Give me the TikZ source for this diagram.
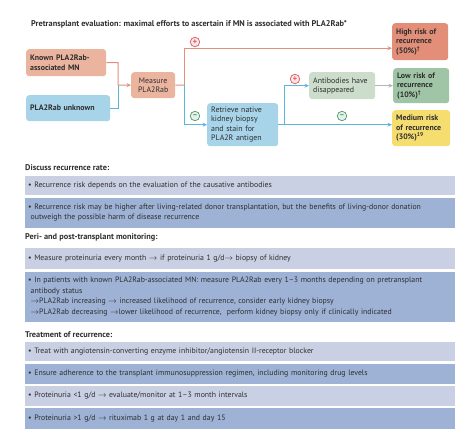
\documentclass[tikz,border=0pt]{standalone}
\usepackage{fontspec}
\setmainfont{PT Sans}
\usepackage{tikz}
\usetikzlibrary{arrows.meta,positioning,calc}

\definecolor{txt}{HTML}{2E2E2E}
\definecolor{salmonLt}{HTML}{EBB49F}
\definecolor{salmonDk}{HTML}{E38E78}
\definecolor{blueLt}{HTML}{A8D4EA}
\definecolor{greenLt}{HTML}{CCDDCC}
\definecolor{greenDk}{HTML}{A0C5A6}
\definecolor{yellowRisk}{HTML}{F6DD70}
\definecolor{bandLt}{HTML}{C9D0E3}
\definecolor{bandDk}{HTML}{9DB2D5}
\definecolor{lineSalmon}{HTML}{E0917B}
\definecolor{lineBlue}{HTML}{5BB6DC}
\definecolor{lineGray}{HTML}{B5B5B5}
\definecolor{plusRed}{HTML}{E0575C}
\definecolor{minusGreen}{HTML}{4E9A6C}

\begin{document}
\begin{tikzpicture}[x=1pt, y=-1pt,
  box/.style={rounded corners=3pt, fill=#1, anchor=north west, inner xsep=4pt,
              inner ysep=2pt, align=left, text=txt,
              font=\fontsize{7.9}{9.4}\selectfont},
  bbox/.style={box=#1, font=\fontsize{7.9}{9.4}\selectfont\bfseries},
  band/.style={fill=#1, anchor=north west, text width=424pt, inner xsep=3pt,
               inner ysep=2pt, align=left, text=txt,
               font=\fontsize{7.8}{10.8}\selectfont},
  head/.style={anchor=west, inner sep=0pt, text=txt,
               font=\fontsize{8.3}{9}\selectfont\bfseries},
  arr/.style={-{Stealth[length=4.5pt,width=4pt]}, line width=1pt, #1},
  ln/.style={line width=1pt, #1},
  sign/.style={circle, draw=#1, fill=#1!15, line width=0.7pt, inner sep=0pt,
               minimum size=9.5pt, text=#1, font=\fontsize{8}{8}\selectfont\bfseries},
  node distance=2pt
]
  \useasboundingbox (0,0) rectangle (474,433);

  % Pretransplant evaluation
  \node[head] (title) at (31,24)
    {Pretransplant evaluation: maximal efforts to ascertain if MN is associated with PLA2Rab*};

  \node[bbox=salmonLt, text width=72pt, minimum height=27pt] (known) at (26,49)
    {Known PLA2Rab-\\associated MN};
  \node[bbox=blueLt, text width=76pt, minimum height=26pt] (unknown) at (26,95)
    {PLA2Rab unknown};
  \node[box=salmonLt, align=center, inner xsep=2pt, text width=40pt, minimum height=26pt] (measure) at (131,72)
    {Measure\\PLA2Rab};
  \node[box=blueLt, text width=63pt, minimum height=43pt] (retrieve) at (207,103)
    {Retrieve native\\kidney biopsy\\and stain for\\PLA2R antigen};
  \node[box=greenLt, text width=58pt, minimum height=27pt] (antibodies) at (309,72)
    {Antibodies have\\disappeared};
  \node[bbox=salmonDk, text width=48pt, minimum height=37pt] (high) at (392,23)
    {High risk of\\recurrence\\(50\%)\textsuperscript{\textdagger}};
  \node[bbox=greenDk, text width=48pt, minimum height=35pt] (low) at (393,68)
    {Low risk of\\recurrence\\(10\%)\textsuperscript{\textdagger}};
  \node[bbox=yellowRisk, text width=50pt, minimum height=36pt] (medium) at (392,110)
    {Medium risk\\of recurrence\\(30\%)\textsuperscript{19}};

  \coordinate (jin) at (118,85);
  \coordinate (jmeas) at (184,85);
  \coordinate (jret) at (284,124.5);

  % Connectors
  \draw[ln=lineBlue] (unknown.east) -| (jin);
  \draw[arr=lineSalmon] (known.east) -| (jin) -- (measure.west);
  \draw[ln=lineSalmon] (measure.east) -- (jmeas);
  \draw[arr=lineSalmon] (jmeas) |- ([yshift=-6.5pt]high.west);
  \draw[arr=lineBlue] (jmeas) |- (retrieve.west);
  \draw[arr=lineBlue] (retrieve.east) -- (retrieve.east -| medium.west);
  \draw[arr=lineBlue] (jret) |- (antibodies.west);
  \draw[arr=lineGray] (antibodies.east) -- (low.west);

  \node[sign=plusRed] (plusHigh) at (195,42) {+};
  \node[sign=minusGreen] (minusRet) at (195,116) {\raisebox{0.3pt}{--}};
  \node[sign=plusRed] (plusAnti) at (295,79) {+};
  \node[sign=minusGreen] (minusMed) at (342,116) {\raisebox{0.3pt}{--}};

  % Discuss recurrence rate
  \node[head] (hDiscuss) at (25,168) {Discuss recurrence rate:};
  \node[band=bandLt, minimum height=19pt] (b1) at (25,176)
    {• Recurrence risk depends on the evaluation of the causative antibodies};
  \node[band=bandDk, minimum height=30pt, below=of b1] (b2)
    {• Recurrence risk may be higher after living-related donor transplantation, but the benefits of living-donor donation\\
     \hspace*{2.5pt}outweigh the possible harm of disease recurrence};

  % Peri- and post-transplant monitoring
  \node[head] (hMonitor) at (25,237) {Peri- and post-transplant monitoring:};
  \node[band=bandLt, minimum height=21pt] (b3) at (25,248)
    {• Measure proteinuria every month $\rightarrow$ if proteinuria 1 g/d$\rightarrow$ biopsy of kidney};
  \node[band=bandDk, minimum height=50pt, below=of b3] (b4)
    {• In patients with known PLA2Rab-associated MN: measure PLA2Rab every 1--3 months depending on pretransplant\\
     \hspace*{2.5pt}antibody status\\
     \hspace*{2.5pt}$\rightarrow$PLA2Rab increasing $\rightarrow$ increased likelihood of recurrence, consider early kidney biopsy\\
     \hspace*{2.5pt}$\rightarrow$PLA2Rab decreasing $\rightarrow$lower likelihood of recurrence,\ \ perform kidney biopsy only if clinically indicated};

  % Treatment of recurrence
  \node[head] (hTreat) at (25,335) {Treatment of recurrence:};
  \node[band=bandLt, minimum height=19pt] (b5) at (25,342)
    {• Treat with angiotensin-converting enzyme inhibitor/angiotensin II-receptor blocker};
  \node[band=bandDk, minimum height=20pt, below=of b5] (b6)
    {• Ensure adherence to the transplant immunosuppression regimen, including monitoring drug levels};
  \node[band=bandLt, minimum height=20pt, below=of b6] (b7)
    {• Proteinuria <1 g/d $\rightarrow$ evaluate/monitor at 1--3 month intervals};
  \node[band=bandDk, minimum height=21pt, below=of b7] (b8)
    {• Proteinuria >1 g/d $\rightarrow$ rituximab 1 g at day 1 and day 15};
\end{tikzpicture}
\end{document}
